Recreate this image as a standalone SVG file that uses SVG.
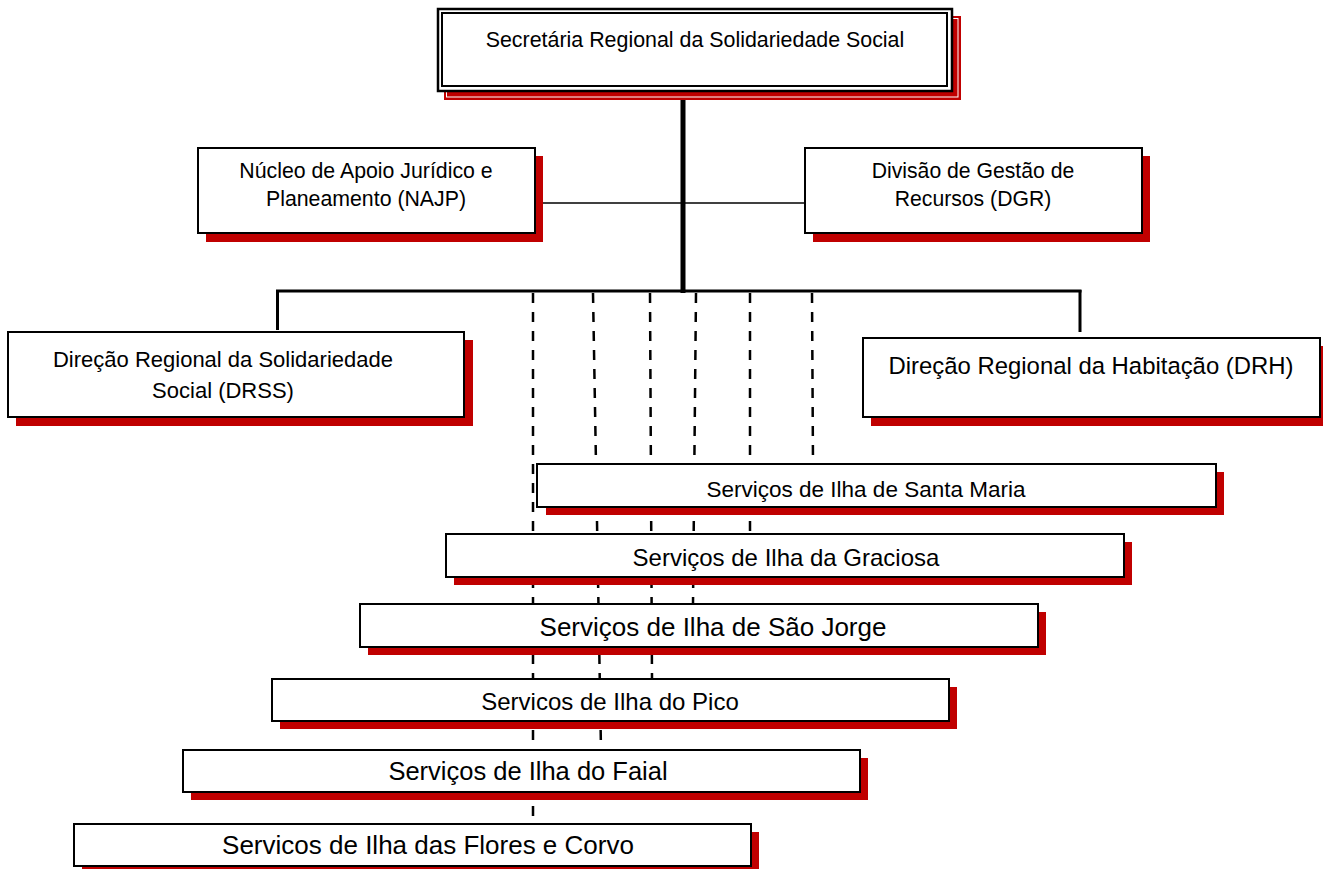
<svg xmlns="http://www.w3.org/2000/svg" width="1324" height="869" viewBox="0 0 1324 869">
<style>
.sh{fill:#c00000;stroke:none}
.bx{fill:#fff;stroke:#000;stroke-width:2}
.t{font-family:"Liberation Sans",Arial,sans-serif;fill:#000;text-anchor:middle}
.solid{stroke:#000;fill:none}
.dash{stroke:#000;stroke-width:2.5;stroke-dasharray:10 9;fill:none}
</style>
<rect width="1324" height="869" fill="#fff"/>
<g id="connectors">
<line class="solid" x1="683" y1="91" x2="683" y2="293" stroke-width="5"/>
<line class="solid" x1="276" y1="291" x2="1081.5" y2="291" stroke-width="3"/>
<line class="solid" x1="277.5" y1="290" x2="277.5" y2="330" stroke-width="3"/>
<line class="solid" x1="1080" y1="290" x2="1080" y2="332" stroke-width="3"/>
<line class="solid" x1="535" y1="203" x2="805" y2="203" stroke-width="1.5"/>
<line class="dash" x1="533" y1="293" x2="533" y2="824"/>
<line class="dash" x1="593" y1="293" x2="601" y2="750"/>
<line class="dash" x1="650" y1="293" x2="652" y2="679"/>
<line class="dash" x1="696" y1="293" x2="693" y2="604"/>
<line class="dash" x1="750" y1="293" x2="750" y2="534"/>
<line class="dash" x1="812" y1="293" x2="813" y2="464"/>
</g>
<g id="n-secretaria">
<rect x="444" y="16" width="517" height="84" fill="#c00000"/>
<rect x="446.5" y="18.5" width="511.5" height="78.5" fill="none" stroke="#fff" stroke-width="1"/>
<rect x="438" y="9" width="514" height="82" fill="#fff" stroke="#000" stroke-width="2.5"/>
<rect x="442" y="13" width="505" height="73" fill="none" stroke="#000" stroke-width="2"/>
<text class="t" x="695" y="47" font-size="21.4">Secretária Regional da Solidariedade Social</text>
</g>
<g id="n-najp">
<rect class="sh" x="206" y="156" width="337" height="86"/>
<rect class="bx" x="198" y="148" width="337" height="85"/>
<text class="t" x="366" y="178" font-size="21.3">Núcleo de Apoio Jurídico e</text>
<text class="t" x="366" y="206" font-size="21.3">Planeamento (NAJP)</text>
</g>
<g id="n-dgr">
<rect class="sh" x="813" y="156" width="337" height="86"/>
<rect class="bx" x="805" y="148" width="337" height="85"/>
<text class="t" x="973" y="178" font-size="21.2">Divisão de Gestão de</text>
<text class="t" x="973" y="206" font-size="21.2">Recursos (DGR)</text>
</g>
<g id="n-drss">
<rect class="sh" x="16" y="340" width="457" height="86"/>
<rect class="bx" x="8" y="332" width="456" height="85"/>
<text class="t" x="223" y="367" font-size="22">Direção Regional da Solidariedade</text>
<text class="t" x="223" y="398" font-size="22">Social (DRSS)</text>
</g>
<g id="n-drh">
<rect class="sh" x="871" y="346" width="452" height="80"/>
<rect class="bx" x="863" y="338" width="457" height="79"/>
<text class="t" x="1091" y="374" font-size="23.9">Direção Regional da Habitação (DRH)</text>
</g>
<g id="n-santamaria">
<rect class="sh" x="546" y="472" width="678" height="43"/>
<rect class="bx" x="537" y="464" width="679" height="43"/>
<text class="t" x="866" y="497" font-size="22.5">Serviços de Ilha de Santa Maria</text>
</g>
<g id="n-graciosa">
<rect class="sh" x="454" y="542" width="678" height="43"/>
<rect class="bx" x="446" y="534" width="678" height="43"/>
<text class="t" x="786" y="566" font-size="24">Serviços de Ilha da Graciosa</text>
</g>
<g id="n-saojorge">
<rect class="sh" x="368" y="612" width="678" height="43"/>
<rect class="bx" x="360" y="604" width="678" height="43"/>
<text class="t" x="713" y="636" font-size="26">Serviços de Ilha de São Jorge</text>
</g>
<g id="n-pico">
<rect class="sh" x="280" y="687" width="677" height="42"/>
<rect class="bx" x="272" y="679" width="677" height="42"/>
<text class="t" x="610" y="710" font-size="24">Servicos de Ilha do Pico</text>
</g>
<g id="n-faial">
<rect class="sh" x="191" y="758" width="677" height="42"/>
<rect class="bx" x="183" y="750" width="677" height="42"/>
<text class="t" x="528" y="780" font-size="25.5">Serviços de Ilha do Faial</text>
</g>
<g id="n-flores">
<rect class="sh" x="82" y="832" width="677" height="40"/>
<rect class="bx" x="74" y="824" width="677" height="42"/>
<text class="t" x="428" y="854" font-size="26">Servicos de Ilha das Flores e Corvo</text>
</g>
</svg>
